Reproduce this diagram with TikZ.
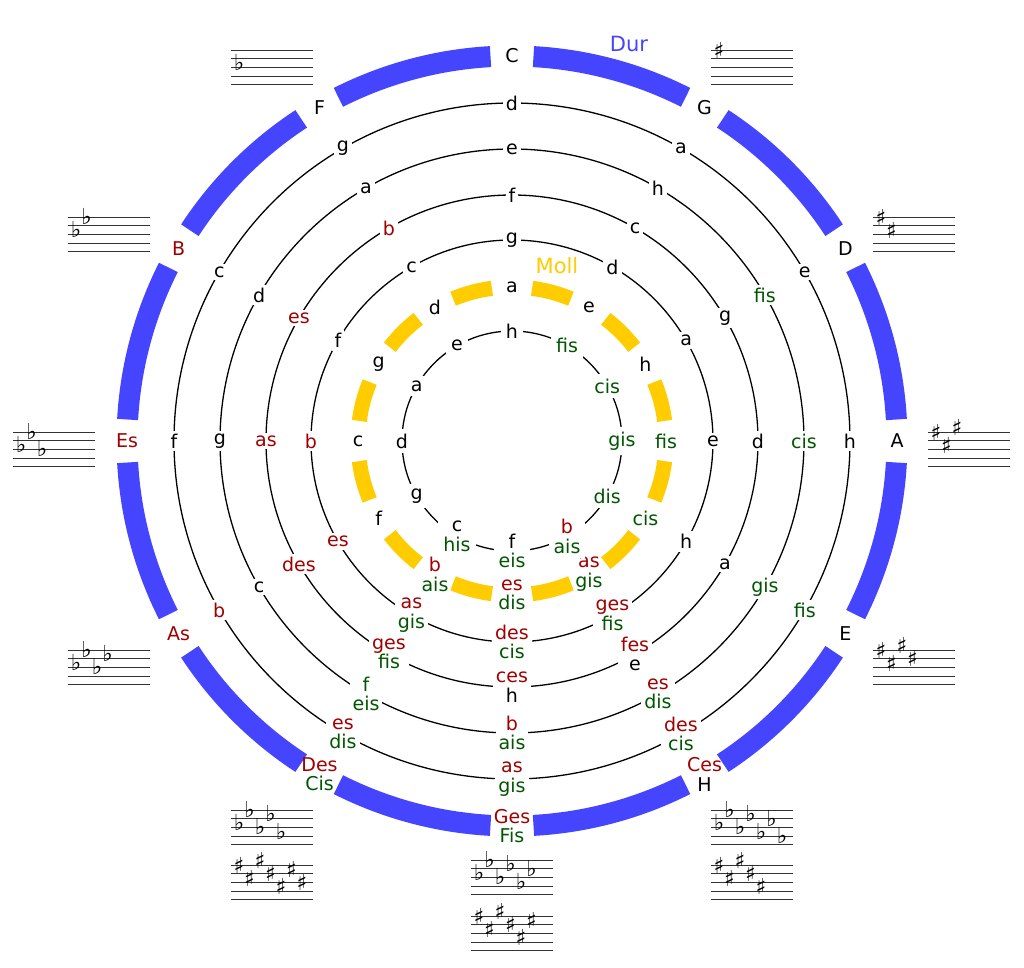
\documentclass[tikz,border=0pt]{standalone}
\usepackage{fontspec}
\setmainfont{DejaVu Sans}
\definecolor{durb}{HTML}{4545FF}
\definecolor{mollg}{HTML}{FFCC00}
\definecolor{rd}{HTML}{A00000}
\definecolor{gr}{HTML}{005500}
\newcommand\R[1]{\textcolor{rd}{#1}}
\newcommand\G[1]{\textcolor{gr}{#1}}
\newcommand\kstaff[3]{% X, Ytop, name
  \foreach \j in {0,...,4} \draw[staffl] ({#1-512},{441-(#2)-8.7*\j}) -- ++(82,0);}
\newcommand\kacc[5]{% X, Ytop, steps, symbol, yoffset
  \foreach \n [count=\i] in {#3}
    \node[acc] (acc-#1-#2-\i) at ({#1-512+8+10.5*(\i-1)},{441-(#2)-34.8+4.35*\n+#5}) {#4};}
\begin{document}
\begin{tikzpicture}[x=1pt,y=1pt,
  lab/.style={fill=white,inner sep=3pt,align=center,font=\fontsize{19}{19.5}\selectfont},
  ring/.style={line width=1.3pt,black},
  staffl/.style={line width=0.7pt,black!80},
  acc/.style={inner sep=0pt,font=\fontsize{22}{22}\selectfont}]
\useasboundingbox (-512,-526) rectangle (512,441);
% blue ring
\foreach \k in {0,...,11}
  \draw[durb,line width=21pt] ({90-30*\k-3.2}:385) arc[start angle={90-30*\k-3.2},end angle={90-30*(\k+1)+3.2},radius=385];
% yellow ring
\foreach \k in {0,...,11}
  \draw[mollg,line width=15pt] ({82.5-30*\k}:154) arc[start angle={82.5-30*\k},end angle={67.5-30*\k},radius=154];
% thin circles
\foreach \r in {338,292,246,201,110} \draw[ring] (0,0) circle[radius=\r];
% labels
\foreach \t [count=\k from 0] in {C,G,D,A,E,{\R{Ces}\\H},{\R{Ges}\\\G{Fis}},{\R{Des}\\\G{Cis}},\R{As},\R{Es},\R{B},F}
  \node[lab,fill=none] (r1-\k) at ({90-30*\k}:385) {\t};
\foreach \t [count=\k from 0] in {d,a,e,h,\G{fis},{\R{des}\\\G{cis}},{\R{as}\\\G{gis}},{\R{es}\\\G{dis}},\R{b},f,c,g}
  \node[lab] (r2-\k) at ({90-30*\k}:338) {\t};
\foreach \t [count=\k from 0] in {e,h,\G{fis},\G{cis},\G{gis},{\R{es}\\\G{dis}},{\R{b}\\\G{ais}},{\G{f}\\\G{eis}},c,g,d,a}
  \node[lab] (r3-\k) at ({90-30*\k}:292) {\t};
\foreach \t [count=\k from 0] in {f,c,g,d,a,{\R{fes}\\e},{\R{ces}\\h},{\R{ges}\\\G{fis}},\R{des},\R{as},\R{es},\R{b}}
  \node[lab] (r4-\k) at ({90-30*\k}:246) {\t};
\foreach \t [count=\k from 0] in {g,d,a,e,h,{\R{ges}\\\G{fis}},{\R{des}\\\G{cis}},{\R{as}\\\G{gis}},\R{es},\R{b},f,c}
  \node[lab] (r5-\k) at ({90-30*\k}:201) {\t};
\foreach \t [count=\k from 0] in {a,e,h,\G{fis},\G{cis},{\R{as}\\\G{gis}},{\R{es}\\\G{dis}},{\R{b}\\\G{ais}},f,c,g,d}
  \node[lab,fill=none] (r6-\k) at ({90-30*\k}:154) {\t};
\foreach \t [count=\k from 0] in {h,\G{fis},\G{cis},\G{gis},\G{dis},{\R{b}\\\G{ais}},{f\\\G{eis}},{c\\\G{his}},g,d,a,e}
  \node[lab,inner sep=5pt] (r7-\k) at ({90-30*\k}:110) {\t};
\node[lab,fill=none,text=durb,font=\fontsize{21}{21}\selectfont] (dur) at (117,397) {Dur};
\node[lab,fill=none,text=mollg,font=\fontsize{21}{21}\selectfont] (moll) at (45,175) {Moll};
% key signatures
\kstaff{231}{50}{f}  \kacc{231}{50}{4}{♭}{5}
\kstaff{711}{50}{g}  \kacc{711}{50}{8}{♯}{0}
\kstaff{873}{217}{d} \kacc{873}{217}{8,5}{♯}{0}
\kstaff{928}{432}{a} \kacc{928}{432}{8,5,9}{♯}{0}
\kstaff{873}{650}{e} \kacc{873}{650}{8,5,9,6}{♯}{0}
\kstaff{711}{810}{ces} \kacc{711}{810}{4,7,3,6,2,5,1}{♭}{5}
\kstaff{711}{865}{h} \kacc{711}{865}{8,5,9,6,3}{♯}{0}
\kstaff{471}{860}{ges} \kacc{471}{860}{4,7,3,6,2,5}{♭}{5}
\kstaff{471}{916}{fis} \kacc{471}{916}{8,5,9,6,3,7}{♯}{0}
\kstaff{231}{810}{des} \kacc{231}{810}{4,7,3,6,2}{♭}{5}
\kstaff{231}{865}{cis} \kacc{231}{865}{8,5,9,6,3,7,4}{♯}{0}
\kstaff{68}{650}{as} \kacc{68}{650}{4,7,3,6}{♭}{5}
\kstaff{13}{432}{es} \kacc{13}{432}{4,7,3}{♭}{5}
\kstaff{68}{217}{b} \kacc{68}{217}{4,7}{♭}{5}
\end{tikzpicture}
\end{document}
